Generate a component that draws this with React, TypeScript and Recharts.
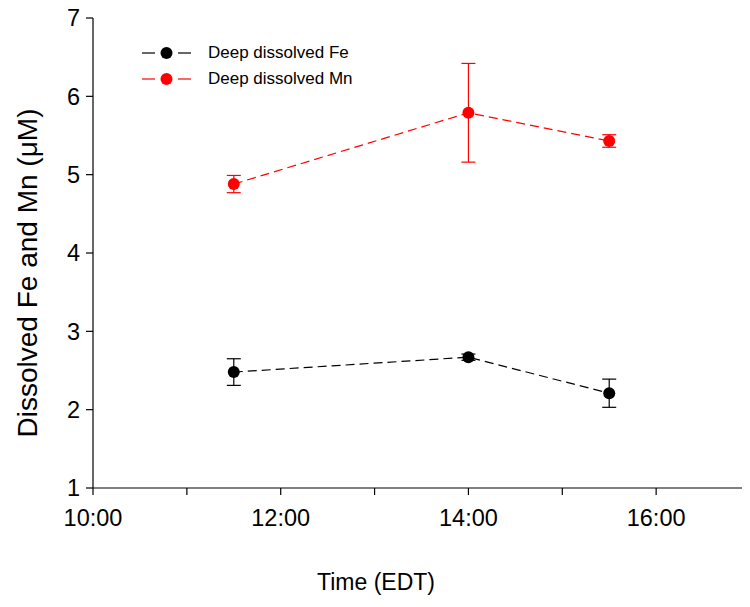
import { LineChart, Line, XAxis, YAxis, ErrorBar, Legend } from "recharts";

const times = [11.5, 14, 15.5];
const feMean = [2.48, 2.67, 2.21];
const feErr = [0.17, 0.04, 0.18];
const mnMean = [4.88, 5.79, 5.43];
const mnErr = [0.11, 0.63, 0.08];

const xTicks = [10, 11, 12, 13, 14, 15, 16, 17];
const yTicks = [1, 2, 3, 4, 5, 6, 7];

const seriesNames = ["Deep dissolved Fe", "Deep dissolved Mn"];
const seriesColors = ["#000000", "#ff0000"];

const FONT = "'Liberation Sans', Arial, sans-serif";

const data = times.map((t, i) => ({
  time: t,
  fe: feMean[i],
  feErr: feErr[i],
  mn: mnMean[i],
  mnErr: mnErr[i],
}));

const fmtHour = (h: number) => (h % 2 === 0 ? `${h}:00` : "");

// eslint-disable-next-line @typescript-eslint/no-explicit-any
function LegendBox({ payload }: any) {
  return (
    <div style={{ fontFamily: FONT, fontSize: 17, color: "#000" }}>
      {/* eslint-disable-next-line @typescript-eslint/no-explicit-any */}
      {(payload || []).map((p: any) => (
        <div key={p.value} style={{ display: "flex", alignItems: "center", height: 26 }}>
          <svg width={50} height={14} style={{ marginRight: 16 }}>
            <line x1={0} y1={7} x2={13} y2={7} stroke={p.color} strokeWidth={1.2} />
            <line x1={36} y1={7} x2={49} y2={7} stroke={p.color} strokeWidth={1.2} />
            <circle cx={24.5} cy={7} r={6} fill={p.color} />
          </svg>
          <span>{p.value}</span>
        </div>
      ))}
    </div>
  );
}

export default function App() {
  return (
    <div style={{ margin: -8, width: 750, height: 607, background: "#fff" }}>
      <LineChart
        width={750}
        height={607}
        data={data}
        margin={{ top: 18, right: 0, left: 0, bottom: 0 }}
        style={{ fontFamily: FONT }}
      >
        <XAxis
          dataKey="time"
          type="number"
          domain={[10, 17]}
          ticks={xTicks}
          tickFormatter={fmtHour}
          height={119}
          tickSize={7}
          tickMargin={14}
          stroke="#000"
          tick={{ fill: "#000", fontSize: 23.5 }}
          axisLine={{ stroke: "#000", strokeWidth: 1.2 }}
          tickLine={{ stroke: "#000", strokeWidth: 1.2 }}
          label={{
            content: () => (
              <text x={376} y={590} textAnchor="middle" fontSize={23} fill="#000" fontFamily={FONT}>
                Time (EDT)
              </text>
            ),
          }}
        />
        <YAxis
          type="number"
          domain={[1, 7]}
          ticks={yTicks}
          width={93}
          tickSize={7}
          tickMargin={6}
          stroke="#000"
          tick={{ fill: "#000", fontSize: 23.5 }}
          axisLine={{ stroke: "#000", strokeWidth: 1.2 }}
          tickLine={{ stroke: "#000", strokeWidth: 1.2 }}
          label={{
            content: () => (
              <text
                x={27}
                y={273}
                transform="rotate(-90, 27, 273)"
                textAnchor="middle"
                dominantBaseline="central"
                fontSize={28}
                fill="#000"
                fontFamily={FONT}
              >
                Dissolved Fe and Mn (μM)
              </text>
            ),
          }}
        />
        <Legend
          content={<LegendBox />}
          layout="vertical"
          verticalAlign="middle"
          align="center"
          wrapperStyle={{ top: 40, left: 142, width: 280 }}
        />
        <Line
          dataKey="fe"
          name={seriesNames[0]}
          stroke={seriesColors[0]}
          strokeWidth={1.2}
          strokeDasharray="9 5"
          dot={{ r: 6, fill: seriesColors[0], stroke: seriesColors[0], strokeWidth: 0 }}
          isAnimationActive={false}
        >
          <ErrorBar dataKey="feErr" direction="y" width={7} stroke={seriesColors[0]} strokeWidth={1.2} />
        </Line>
        <Line
          dataKey="mn"
          name={seriesNames[1]}
          stroke={seriesColors[1]}
          strokeWidth={1.2}
          strokeDasharray="9 5"
          dot={{ r: 6, fill: seriesColors[1], stroke: seriesColors[1], strokeWidth: 0 }}
          isAnimationActive={false}
        >
          <ErrorBar dataKey="mnErr" direction="y" width={7} stroke={seriesColors[1]} strokeWidth={1.2} />
        </Line>
      </LineChart>
    </div>
  );
}
